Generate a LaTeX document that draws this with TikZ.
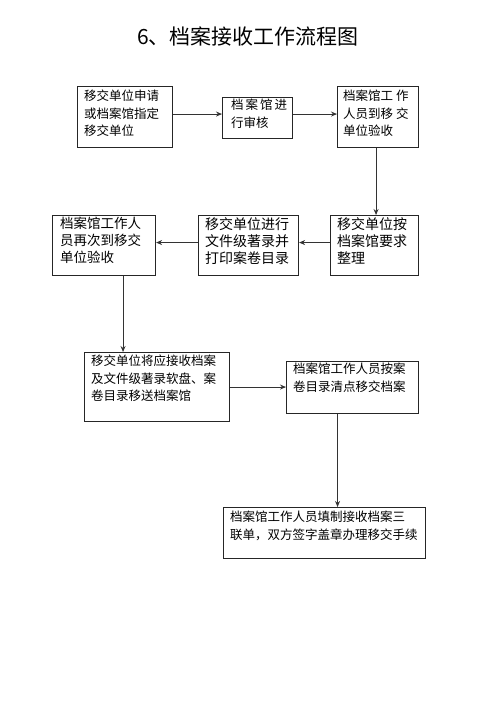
\documentclass[tikz,border=0pt]{standalone}
\usepackage{fontspec}
\setmainfont{Noto Sans CJK SC}
\usetikzlibrary{positioning, arrows.meta}
\tikzset{
    kuang/.style = {draw=black!85, line width=1.1pt, anchor=north west, inner sep=0pt},
    wenzi/.style = {anchor=north west, align=left, inner sep=0pt, font=\fontsize{12.5}{17.5}\selectfont},
    jiantou/.style = {line width=0.9pt, draw=black!80, arrows = {-Stealth[length=6pt, width=5pt]}}
}

\begin{document}
\begin{tikzpicture}[x=1pt, y=-1pt]
    \useasboundingbox (0,0) rectangle (500,707);

    % title
    \node[font=\fontsize{21}{24}\selectfont] (biaoti) at (248,36) {6、档案接收工作流程图};

    %%% Boxes
    % first row
    \node[kuang, minimum width=95pt, minimum height=61pt]  (shenqing) at (77,86)  {};
    \node[kuang, minimum width=70pt, minimum height=41pt]  (shenhe)   at (222,97) {};
    \node[kuang, minimum width=81pt, minimum height=61pt]  (yanshou)  at (337,86) {};
    % second row
    \node[kuang, minimum width=88pt, minimum height=60pt]  (zhengli)  at (330,215) {};
    \node[kuang, minimum width=100pt, minimum height=60pt] (zhulu)    at (198,215) {};
    \node[kuang, minimum width=103pt, minimum height=60pt] (zaici)    at (52,215)  {};
    % third row
    \node[kuang, minimum width=145pt, minimum height=69pt] (yisong)   at (84,352)  {};
    \node[kuang, minimum width=132pt, minimum height=52pt] (qingdian) at (286,361) {};
    % last
    \node[kuang, minimum width=202pt, minimum height=51pt] (shouxu)   at (223,507) {};

    %%% Texts
    \node[wenzi] (shenqing-t) at ([shift={(7,4)}]shenqing.north west) {移交单位申请\\或档案馆指定\\移交单位};
    \node[wenzi] (shenhe-t)   at ([shift={(9,2)}]shenhe.north west)   {档\hspace{2pt}案\hspace{2pt}馆\hspace{2pt}进\\行审核};
    \node[wenzi] (yanshou-t)  at ([shift={(6,4)}]yanshou.north west)  {档案馆工 作\\人员到移 交\\单位验收};
    \node[wenzi, font=\fontsize{14}{17}\selectfont] (zhengli-t) at ([shift={(7,2)}]zhengli.north west) {移交单位按\\档案馆要求\\整理};
    \node[wenzi, font=\fontsize{14}{17}\selectfont] (zhulu-t)   at ([shift={(7,2)}]zhulu.north west)   {移交单位进行\\文件级著录并\\打印案卷目录};
    \node[wenzi, font=\fontsize{13.5}{17}\selectfont] (zaici-t) at ([shift={(8,2)}]zaici.north west)   {档案馆工作人\\员再次到移交\\单位验收};
    \node[wenzi] (yisong-t)   at ([shift={(7,3)}]yisong.north west)   {移交单位将应接收档案\\及文件级著录软盘、案\\卷目录移送档案馆};
    \node[wenzi] (qingdian-t) at ([shift={(7,2)}]qingdian.north west) {档案馆工作人员按案\\卷目录清点移交档案};
    \node[wenzi] (shouxu-t)   at ([shift={(7,4)}]shouxu.north west)   {档案馆工作人员填制接收档案三\\联单，双方签字盖章办理移交手续};

    %%% Arrows
    \draw[jiantou] ([yshift=3pt]shenqing.east) -- ([yshift=3pt]shenqing.east -| shenhe.west);
    \draw[jiantou] ([yshift=4pt]shenhe.east) -- ([yshift=4pt]shenhe.east -| yanshou.west);
    \draw[jiantou] ([xshift=-2pt]yanshou.south) -- ([xshift=-2pt]yanshou.south |- zhengli.north);
    \draw[jiantou] ([yshift=3pt]zhengli.west) -- ([yshift=3pt]zhengli.west -| zhulu.east);
    \draw[jiantou] ([yshift=3pt]zhulu.west) -- ([yshift=3pt]zhulu.west -| zaici.east);
    \draw[jiantou] ([xshift=19pt]zaici.south) -- ([xshift=19pt]zaici.south |- yisong.north);
    \draw[jiantou] (yisong.east) -- (yisong.east -| qingdian.west);
    \draw[jiantou] ([xshift=-15pt]qingdian.south) -- ([xshift=-15pt]qingdian.south |- shouxu.north);
\end{tikzpicture}
\end{document}
